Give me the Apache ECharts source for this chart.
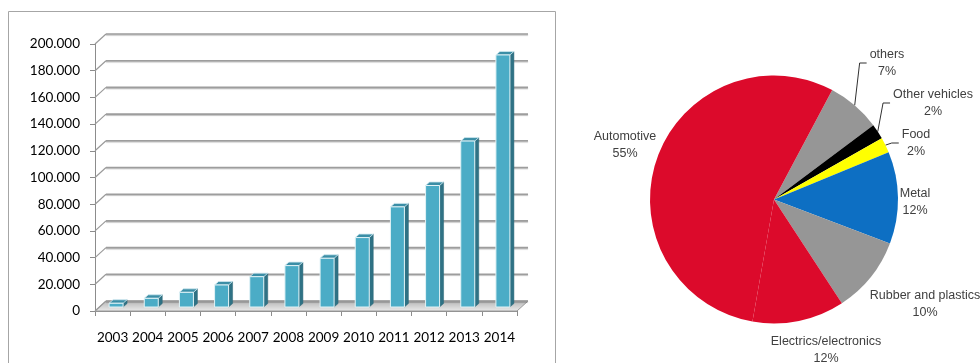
<!DOCTYPE html>
<html>
<head>
<meta charset="utf-8">
<script src="https://cdn.jsdelivr.net/npm/echarts@6/dist/echarts.min.js"></script>
<style>
html,body{margin:0;padding:0;background:#fff;}
#chart{width:980px;height:363px;}
</style>
</head>
<body>
<div id="chart"></div>
<script>
// ---- data ----
const years = ['2003','2004','2005','2006','2007','2008','2009','2010','2011','2012','2013','2014'];
const production = [2800, 6500, 11000, 16500, 22700, 31000, 36500, 52000, 75000, 91000, 124300, 188800];
const yTicks = [0, 20000, 40000, 60000, 80000, 100000, 120000, 140000, 160000, 180000, 200000];
const sectors = ['others', 'Other vehicles', 'Food', 'Metal', 'Rubber and plastics', 'Electrics/electronics', 'Automotive'];
const shares = [7, 2, 2, 12, 10, 12, 55];

// ---- styles ----
const sectorColors = ['#969696', '#000000', '#ffff00', '#0d6fc3', '#969696', '#dc0a2b', '#dc0a2b'];
const leaderShown = [true, true, true, false, false, false, false];
const labelPos = [[887, 63], [933, 103], [916, 143], [915, 202], [925, 304], [826, 350], [625, 145]];
const DEPTH_X = 11, DEPTH_Y = -10;
const LEADER_GAP = 3, LEADER_LEN2 = 7;

const chart = echarts.init(document.getElementById('chart'), null, {renderer: 'canvas'});

function fmtThousands(v) {
  if (v === 0) return '0';
  const s = String(Math.round(v));
  return s.replace(/\B(?=(\d{3})+(?!\d))/g, '.');
}

const option = {
  animation: false,
  graphic: [{
    type: 'rect',
    shape: {x: 8.5, y: 11.5, width: 547, height: 400},
    style: {fill: 'none', stroke: '#a6a6a6', lineWidth: 1},
    silent: true, z: -10
  }],
  grid: {left: 95, top: 44, width: 422, height: 267},
  xAxis: {
    type: 'category',
    data: years,
    axisLine: {show: true, lineStyle: {color: '#8c8c8c', width: 1}},
    axisTick: {show: true, length: 5, lineStyle: {color: '#8c8c8c'}},
    axisLabel: {interval: 0, margin: 20, fontFamily: 'Lato', fontSize: 13.5, color: '#000'},
    splitLine: {show: false}
  },
  yAxis: {
    type: 'value',
    min: 0, max: 200000, interval: 20000,
    axisLine: {show: true, lineStyle: {color: '#8c8c8c', width: 1}},
    axisTick: {show: true, length: 5, lineStyle: {color: '#8c8c8c'}},
    axisLabel: {margin: 15, fontFamily: 'Lato', fontSize: 13.5, color: '#000', formatter: fmtThousands},
    splitLine: {show: false}
  },
  series: [
    {
      type: 'custom',
      name: 'walls',
      silent: true,
      clip: false,
      data: yTicks.map(v => [0, v]),
      renderItem: function (params, api) {
        const v = api.value(1);
        const bw = api.size([1, 0])[0];
        const p0 = api.coord([0, v]);
        const p1 = api.coord([years.length - 1, v]);
        const x0 = p0[0] - bw / 2, x1 = p1[0] + bw / 2, y = p0[1];
        const children = [];
        if (v === 0) {
          children.push({
            type: 'polygon',
            shape: {points: [[x0, y], [x1, y], [x1 + DEPTH_X, y + DEPTH_Y], [x0 + DEPTH_X, y + DEPTH_Y]]},
            style: {
              fill: new echarts.graphic.LinearGradient(0, 0, 0, 1, [
                {offset: 0, color: '#b5b5b5'}, {offset: 0.6, color: '#d6d6d6'}, {offset: 1, color: '#ececec'}
              ]),
              stroke: '#9a9a9a', lineWidth: 1
            }
          });
        }
        children.push({
          type: 'line',
          shape: {x1: x0, y1: y, x2: x0 + DEPTH_X, y2: y + DEPTH_Y},
          style: {stroke: '#9a9a9a', lineWidth: 1.2}
        });
        children.push({
          type: 'line',
          shape: {x1: x0 + DEPTH_X, y1: y + DEPTH_Y, x2: x1 + DEPTH_X, y2: y + DEPTH_Y},
          style: {stroke: '#9d9d9d', lineWidth: 1.6, shadowColor: 'rgba(0,0,0,0.25)', shadowOffsetY: 1, shadowBlur: 1}
        });
        return {type: 'group', children: children};
      }
    },
    {
      type: 'custom',
      name: 'production',
      clip: false,
      data: production.map((v, i) => [i, v]),
      renderItem: function (params, api) {
        const c = api.coord([api.value(0), api.value(1)]);
        const b = api.coord([api.value(0), 0]);
        const dx = 4, dy = -3.5;
        const xl = c[0] - 3.5, xr = c[0] + 10.5;
        const yt = c[1] - 4, yb = b[1] - 4;
        return {
          type: 'group',
          children: [
            {
              type: 'polygon',
              shape: {points: [[xr, yt], [xr + dx, yt + dy], [xr + dx, yb + dy], [xr, yb]]},
              style: {fill: '#2f7285', stroke: '#2a6677', lineWidth: 0.5}
            },
            {
              type: 'polygon',
              shape: {points: [[xl, yt], [xl + dx, yt + dy], [xr + dx, yt + dy], [xr, yt]]},
              style: {fill: '#3b8ea6', stroke: '#cfe9f0', lineWidth: 0.8}
            },
            {
              type: 'rect',
              shape: {x: xl, y: yt, width: xr - xl, height: yb - yt},
              style: {fill: '#4bacc6', stroke: '#e2f3f7', lineWidth: 1}
            }
          ]
        };
      }
    },
    {
      type: 'pie',
      name: 'sectors',
      center: [774, 199.5],
      radius: 124,
      startAngle: 62,
      clockwise: true,
      avoidLabelOverlap: false,
      silent: true,
      itemStyle: {borderWidth: 0},
      label: {
        show: true,
        position: 'outside',
        formatter: '{b}\n{c}%',
        fontFamily: 'Liberation Sans',
        fontSize: 12.5,
        lineHeight: 17,
        color: '#404040',
        align: 'center'
      },
      labelLine: {show: true, length: 8, length2: 8, smooth: false, lineStyle: {color: '#303030', width: 1}},
      labelLayout: function (params) {
        const p = labelPos[params.dataIndex];
        const out = {x: p[0], y: p[1], align: 'center', verticalAlign: 'middle'};
        if (leaderShown[params.dataIndex] && params.labelLinePoints && params.labelRect) {
          const start = params.labelLinePoints[0];
          const left = p[0] - params.labelRect.width / 2 - LEADER_GAP;
          out.labelLinePoints = [
            [start[0], start[1]],
            [left - LEADER_LEN2, p[1]],
            [left, p[1]]
          ];
        }
        return out;
      },
      data: sectors.map((name, i) => ({
        name: name,
        value: shares[i],
        itemStyle: {color: sectorColors[i]},
        labelLine: {show: leaderShown[i]}
      }))
    }
  ]
};
chart.setOption(option);
</script>
</body>
</html>
